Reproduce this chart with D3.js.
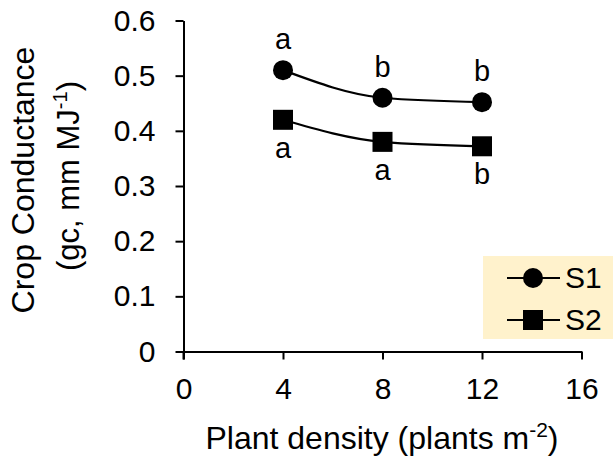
<!DOCTYPE html>
<html>
<head>
<meta charset="utf-8">
<script src="https://cdn.jsdelivr.net/npm/d3@7"></script>
<style>
  body { margin: 0; background: #fff; }
  svg { font-family: Arial, "Liberation Sans", sans-serif; }
  .axis path, .axis line { stroke: #000; stroke-width: 2; }
  .axis text { font-size: 30px; fill: #000; font-family: Arial, "Liberation Sans", sans-serif; }
</style>
</head>
<body>
<svg width="613" height="463"></svg>
<script>
// data
var density = [4, 8, 12];
var s1 = [0.51, 0.46, 0.452];
var s2 = [0.42, 0.38, 0.372];
var s1Letters = ["a", "b", "b"];
var s2Letters = ["a", "a", "b"];
var xTicks = [0, 4, 8, 12, 16];
var yTicks = [0, 0.1, 0.2, 0.3, 0.4, 0.5, 0.6];

var svg = d3.select("svg");

var x = d3.scaleLinear().domain([0, 16]).range([183.5, 581.5]),
    y = d3.scaleLinear().domain([0, 0.6]).range([351.5, 20.5]);

// legend box drawn first, the axis runs over it
var legend = svg.append("g");
legend.append("rect")
    .attr("x", 483).attr("y", 256)
    .attr("width", 140).attr("height", 83)
    .attr("fill", "#fff2cc");

// x axis
svg.append("g")
    .attr("class", "axis")
    .attr("transform", "translate(0," + y(0) + ")")
    .call(d3.axisBottom(x).tickValues(xTicks).tickSize(8).tickSizeOuter(0).tickPadding(18));

// y axis
svg.append("g")
    .attr("class", "axis")
    .attr("transform", "translate(" + x(0) + ",0)")
    .call(d3.axisLeft(y).tickValues(yTicks).tickSize(8).tickSizeOuter(0).tickPadding(20)
      .tickFormat(function(d) { return d === 0 ? "0" : d3.format(".1f")(d); }));

// y axis extends down past the x axis
svg.append("line")
    .attr("x1", x(0)).attr("x2", x(0))
    .attr("y1", y(0)).attr("y2", y(0) + 8)
    .attr("stroke", "#000").attr("stroke-width", 2);

// axis titles
var xt = svg.append("text")
    .attr("x", 382).attr("y", 449)
    .attr("text-anchor", "middle")
    .attr("font-size", 32);
xt.append("tspan").text("Plant density (plants m");
xt.append("tspan").attr("dy", -12).attr("font-size", 21).text("-2");
xt.append("tspan").attr("dy", 12).text(")");

var yt = svg.append("g").attr("transform", "translate(34,180) rotate(-90)");
yt.append("text")
    .attr("text-anchor", "middle")
    .attr("font-size", 32)
    .text("Crop Conductance");
var yt2 = yt.append("text")
    .attr("x", 4)
    .attr("y", 45)
    .attr("text-anchor", "middle")
    .attr("font-size", 31);
yt2.append("tspan").text("(gc, mm MJ");
yt2.append("tspan").attr("dy", -12).attr("font-size", 20).text("-1");
yt2.append("tspan").attr("dy", 12).text(")");

// lines
var line = d3.line()
    .x(function(d) { return x(d[0]); })
    .y(function(d) { return y(d[1]); })
    .curve(d3.curveMonotoneX);

var series = [
  {name: "S1", values: d3.zip(density, s1), letters: s1Letters, shape: "circle", dy: -21},
  {name: "S2", values: d3.zip(density, s2), letters: s2Letters, shape: "square", dy: 38}
];

function marker(g, shape) {
  if (shape === "circle") {
    g.append("circle").attr("r", 10).attr("fill", "#000");
  } else {
    g.append("rect").attr("x", -10).attr("y", -10).attr("width", 20).attr("height", 20).attr("fill", "#000");
  }
}

series.forEach(function(s) {
  svg.append("path")
      .datum(s.values)
      .attr("fill", "none")
      .attr("stroke", "#000")
      .attr("stroke-width", 2.2)
      .attr("d", line);

  svg.selectAll(null)
      .data(s.values)
    .enter().append("g")
      .attr("transform", function(d) { return "translate(" + x(d[0]) + "," + y(d[1]) + ")"; })
      .each(function() { marker(d3.select(this), s.shape); });

  svg.selectAll(null)
      .data(s.values)
    .enter().append("text")
      .attr("x", function(d) { return x(d[0]); })
      .attr("y", function(d) { return y(d[1]) + s.dy; })
      .attr("text-anchor", "middle")
      .attr("font-size", 29)
      .text(function(d, i) { return s.letters[i]; });
});

// legend entries
series.forEach(function(s, i) {
  var ly = 278 + i * 42;
  legend.append("line")
      .attr("x1", 507).attr("x2", 560)
      .attr("y1", ly).attr("y2", ly)
      .attr("stroke", "#000").attr("stroke-width", 2);
  var m = legend.append("g").attr("transform", "translate(533," + ly + ")");
  marker(m, s.shape);
  legend.append("text")
      .attr("x", 565).attr("y", ly + 10)
      .attr("font-size", 30)
      .text(s.name);
});
</script>
</body>
</html>
